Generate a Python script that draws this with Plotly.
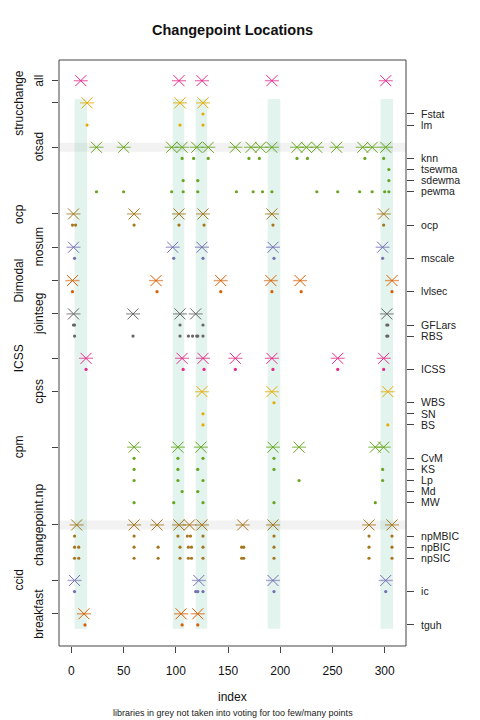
import plotly.graph_objects as go

# ---- changepoint locations ----
# crosses: combined estimate per library, dots: single methods
cp_all = [9, 103, 125, 192, 301]

cp_strucchange = [15, 104, 126]
m_Fstat = [126]
m_lm = [15, 104, 126]

cp_otsad = [24, 50, 96, 106, 120, 131, 157, 172, 181, 192, 216, 225, 235, 254, 279, 288, 301]
m_knn = [106, 117, 131, 170, 180, 216, 226, 281, 299]
m_tsewma = [304]
m_sdewma = [107, 121, 304]
m_pewma = [24, 50, 96, 107, 121, 158, 174, 183, 192, 235, 255, 276, 288, 300, 304]

cp_ocp = [2, 60, 103, 126, 192, 299]
m_ocp = [1, 4, 60, 103, 127, 193, 299]

cp_mosum = [2, 97, 125, 193, 298]
m_mscale = [3, 98, 126, 194, 298]

cp_Dimodal = [1, 81, 143, 191, 219, 307]
m_lvlsec = [1, 82, 143, 192, 220, 307]

cp_jointseg = [2, 59, 104, 119, 302]
m_GFLars = [2, 3, 104, 126, 302, 303]
m_RBS = [3, 59, 104, 112, 116, 120, 121, 126, 302, 303]

cp_ICSS = [14, 106, 126, 157, 192, 255, 299]
m_ICSS = [14, 107, 127, 157, 193, 255, 299]

cp_cpss = [125, 192, 303]
m_WBS = [194]
m_SN = [126]
m_BS = [126, 303]

cp_cpm = [60, 102, 124, 193, 218, 291, 299]
m_CvM = [60, 102, 126, 194]
m_KS = [60, 102, 121, 194, 298]
m_Lp = [60, 102, 126, 218, 298]
m_Md = [106, 121]
m_MW = [60, 98, 126, 194, 291]

cp_changepoint_np = [5, 60, 82, 103, 113, 125, 164, 193, 285, 307]
m_npMBIC = [3, 60, 102, 111, 114, 126, 194, 285, 307]
m_npBIC = [3, 7, 60, 83, 104, 112, 115, 126, 163, 165, 194, 285, 307]
m_npSIC = [3, 7, 60, 83, 104, 112, 115, 126, 163, 165, 194, 285, 307]

cp_ccid = [3, 122, 193, 301]
m_ic = [3, 119, 121, 126, 194, 301]

cp_breakfast = [12, 105, 121]
m_tguh = [13, 106, 121]

# consensus regions (green bands)
band_start = [3, 97, 119, 188, 296]
band_end = [15, 108, 130, 200, 308]

# libraries left out of the vote
grey_libs = ["otsad", "changepoint.np"]

x_ticks = [0, 50, 100, 150, 200, 250, 300]

libraries = [
    ("all", "#E7298A", cp_all, []),
    ("strucchange", "#E6AB02", cp_strucchange, [("Fstat", m_Fstat), ("lm", m_lm)]),
    ("otsad", "#66A61E", cp_otsad, [("knn", m_knn), ("tsewma", m_tsewma),
                                    ("sdewma", m_sdewma), ("pewma", m_pewma)]),
    ("ocp", "#A6761D", cp_ocp, [("ocp", m_ocp)]),
    ("mosum", "#7570B3", cp_mosum, [("mscale", m_mscale)]),
    ("Dimodal", "#D95F02", cp_Dimodal, [("lvlsec", m_lvlsec)]),
    ("jointseg", "#666666", cp_jointseg, [("GFLars", m_GFLars), ("RBS", m_RBS)]),
    ("ICSS", "#E7298A", cp_ICSS, [("ICSS", m_ICSS)]),
    ("cpss", "#E6AB02", cp_cpss, [("WBS", m_WBS), ("SN", m_SN), ("BS", m_BS)]),
    ("cpm", "#66A61E", cp_cpm, [("CvM", m_CvM), ("KS", m_KS), ("Lp", m_Lp),
                                ("Md", m_Md), ("MW", m_MW)]),
    ("changepoint.np", "#A6761D", cp_changepoint_np,
     [("npMBIC", m_npMBIC), ("npBIC", m_npBIC), ("npSIC", m_npSIC)]),
    ("ccid", "#7570B3", cp_ccid, [("ic", m_ic)]),
    ("breakfast", "#D95F02", cp_breakfast, [("tguh", m_tguh)]),
]


def rgba(hex_col, a):
    h = hex_col.lstrip("#")
    return "rgba(%d,%d,%d,%s)" % (int(h[0:2], 16), int(h[2:4], 16), int(h[4:6], 16), a)


FONT = "Liberation Sans, Arial, sans-serif"
fig = go.Figure()

# row layout: library row, then its methods, then a blank row
row = 0
lib_rows, meth_rows, meth_names = [], [], []
for name, col, cps, methods in libraries:
    lib_rows.append(row)
    fig.add_trace(go.Scatter(
        x=cps, y=[row] * len(cps), mode="markers", hoverinfo="skip",
        marker=dict(symbol="line-ew-open", size=10, color=rgba(col, 0.6),
                    line=dict(color=rgba(col, 0.6), width=1.4))))
    fig.add_trace(go.Scatter(
        x=cps, y=[row] * len(cps), mode="markers", name=name,
        marker=dict(symbol="x-thin-open", size=11, color=col,
                    line=dict(color=col, width=1))))
    row += 1
    for mname, vals in methods:
        meth_rows.append(row)
        meth_names.append(mname)
        fig.add_trace(go.Scatter(
            x=vals, y=[row] * len(vals), mode="markers", name=mname, yaxis="y2",
            marker=dict(symbol="circle", size=3.2, color=col, line=dict(width=0))))
        row += 1
    row += 1

y_range = [50.9, -1.86]

# grey horizontal bands for libraries not voting
for name, r in zip([l[0] for l in libraries], lib_rows):
    if name in grey_libs:
        fig.add_shape(type="rect", xref="paper", yref="y", x0=0, x1=1,
                      y0=r - 0.4, y1=r + 0.4, fillcolor="#f2f2f2",
                      line=dict(width=0), layer="below")

# green consensus bands
for s, e in zip(band_start, band_end):
    fig.add_shape(type="rect", xref="x", yref="y", x0=s, x1=e,
                  y0=lib_rows[1] - 0.35, y1=meth_rows[-1] + 0.35,
                  fillcolor=rgba("#1B9E77", 0.12), line=dict(width=0), layer="below")

# frame
fig.add_shape(type="rect", xref="paper", yref="paper", x0=0, x1=1, y0=0, y1=1,
              line=dict(color="#444", width=1), layer="above")

# left labels on two alternating lines, rotated
for i, (name, r) in enumerate(zip([l[0] for l in libraries], lib_rows)):
    fig.add_annotation(x=0, xref="paper", y=r, yref="y", text=name, showarrow=False,
                       textangle=-90, xanchor="center", yanchor="middle",
                       xshift=-20 if i % 2 == 0 else -40,
                       font=dict(size=12, color="#111", family=FONT))

fig.add_annotation(x=0.5, xref="paper", y=1, yref="paper", yshift=30,
                   text="<b>Changepoint Locations</b>", showarrow=False,
                   yanchor="middle", font=dict(size=14.5, color="#111", family=FONT))
fig.add_annotation(x=0.5, xref="paper", y=0, yref="paper", yshift=-51,
                   text="index", showarrow=False, yanchor="middle",
                   font=dict(size=12, color="#111", family=FONT))
fig.add_annotation(x=0.5, xref="paper", y=0, yref="paper", yshift=-67,
                   text="libraries in grey not taken into voting for too few/many points",
                   showarrow=False, yanchor="middle",
                   font=dict(size=9, color="#222", family=FONT))

# page body adds an 8px margin, so the figure is 8px smaller on each side
fig.update_layout(
    width=472, height=712,
    margin=dict(l=51, r=74, t=52, b=74),
    plot_bgcolor="white", paper_bgcolor="white",
    showlegend=False,
    font=dict(family=FONT, color="#111"),
    xaxis=dict(range=[-11.9, 320.4], tickvals=x_ticks, ticks="outside", ticklen=6,
               tickcolor="#444", showgrid=False, zeroline=False, showline=False,
               tickfont=dict(size=12), ticklabelstandoff=8),
    yaxis=dict(range=y_range, tickvals=lib_rows, ticks="outside", ticklen=6,
               tickcolor="#444", showticklabels=False, showgrid=False,
               zeroline=False, showline=False),
    yaxis2=dict(range=y_range, overlaying="y", side="right", tickvals=meth_rows,
                ticktext=meth_names, ticks="outside", ticklen=7, tickcolor="#444",
                showgrid=False, zeroline=False, showline=False,
                tickfont=dict(size=10.5, color="#222"), ticklabelstandoff=5),
)

fig.write_html("out.html")
